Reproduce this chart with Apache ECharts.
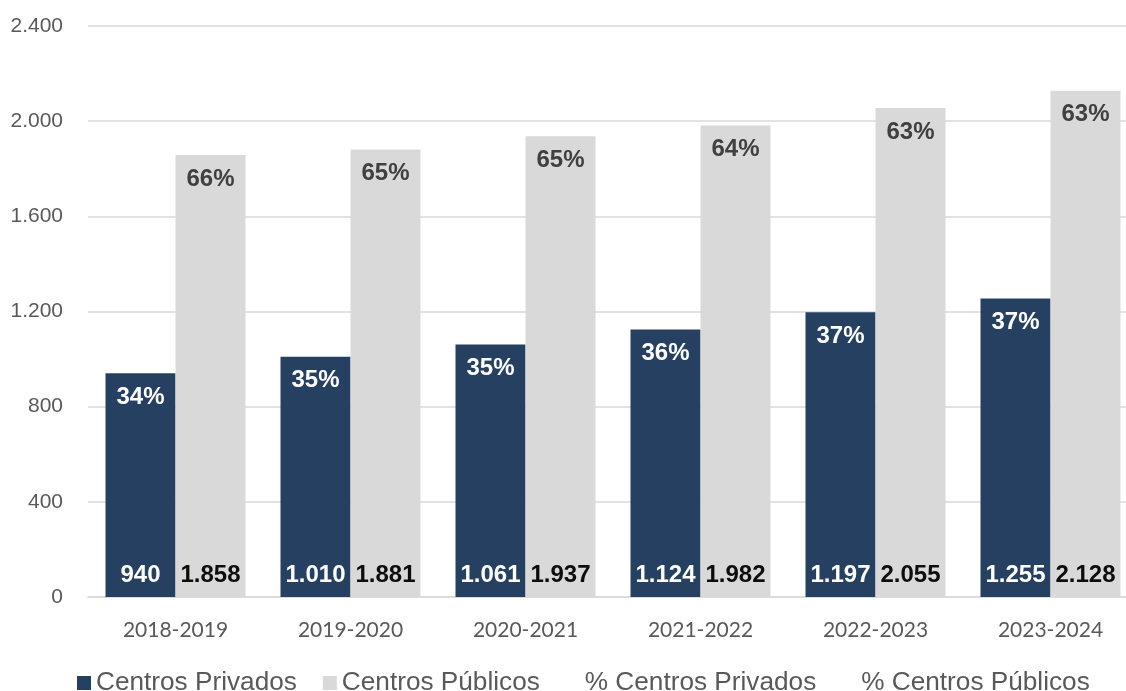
<!DOCTYPE html>
<html>
<head>
<meta charset="utf-8">
<script src="https://cdn.jsdelivr.net/npm/echarts@6/dist/echarts.min.js"></script>
<style>
  html, body { margin: 0; padding: 0; background: #ffffff; }
  #chart { width: 1126px; height: 691px; }
</style>
</head>
<body>
<div id="chart"></div>
<script>
// Cursos académicos
const categories = ['2018-2019', '2019-2020', '2020-2021', '2021-2022', '2022-2023', '2023-2024'];
// Número de centros
const centrosPrivados = [940, 1010, 1061, 1124, 1197, 1255];
const centrosPublicos = [1858, 1881, 1937, 1982, 2055, 2128];
// Porcentaje sobre el total
const pctPrivados = [34, 35, 35, 36, 37, 37];
const pctPublicos = [66, 65, 65, 64, 63, 63];
// Marcas del eje vertical
const yTicks = [0, 400, 800, 1200, 1600, 2000, 2400];

const fmtNum = v => String(v).replace(/\B(?=(\d{3})+(?!\d))/g, '.');
const SANS = 'Liberation Sans, Arial, sans-serif';

const chart = echarts.init(document.getElementById('chart'), null, { renderer: 'canvas' });

chart.setOption({
  animation: false,
  backgroundColor: '#ffffff',
  grid: { left: 88, top: 26, bottom: 94, width: 1050, containLabel: false, outerBoundsMode: 'none' },
  legend: {
    left: 77,
    top: 670,
    padding: 0,
    itemWidth: 14,
    itemHeight: 14,
    itemGap: 26,
    textStyle: { fontFamily: SANS, fontSize: 26.2, color: '#595959' },
    data: [
      { name: 'Centros Privados', icon: 'rect' },
      { name: 'Centros Públicos', icon: 'rect' },
      { name: '% Centros Privados', icon: 'none' },
      { name: '% Centros Públicos', icon: 'none' }
    ]
  },
  xAxis: {
    type: 'category',
    data: categories,
    axisTick: { show: false },
    axisLine: { lineStyle: { color: '#d9d9d9', width: 1.5 } },
    axisLabel: { fontFamily: 'Lato, sans-serif', fontSize: 21, color: '#595959', margin: 23 }
  },
  yAxis: {
    type: 'value',
    min: yTicks[0],
    max: yTicks[yTicks.length - 1],
    interval: yTicks[1] - yTicks[0],
    axisLine: { show: false },
    axisTick: { show: false },
    splitLine: { lineStyle: { color: '#d9d9d9', width: 1.5 } },
    axisLabel: { fontFamily: SANS, fontSize: 21, color: '#595959', margin: 25, formatter: fmtNum }
  },
  series: [
    {
      name: 'Centros Privados',
      type: 'bar',
      stack: 'priv',
      data: centrosPrivados,
      barCategoryGap: '20%',
      barGap: '0%',
      itemStyle: { color: '#264061' },
      label: {
        show: true, position: 'insideBottom', distance: 10,
        fontFamily: SANS, fontWeight: 'bold', fontSize: 24, color: '#ffffff',
        formatter: p => fmtNum(p.value)
      }
    },
    {
      name: '% Centros Privados',
      type: 'bar',
      stack: 'priv',
      data: pctPrivados.map(() => 0),
      itemStyle: { color: '#264061' },
      label: {
        show: true, position: 'insideTop', distance: 12,
        fontFamily: SANS, fontWeight: 'bold', fontSize: 24, color: '#ffffff',
        formatter: p => pctPrivados[p.dataIndex] + '%'
      }
    },
    {
      name: 'Centros Públicos',
      type: 'bar',
      stack: 'pub',
      data: centrosPublicos,
      barCategoryGap: '20%',
      barGap: '0%',
      itemStyle: { color: '#d9d9d9' },
      label: {
        show: true, position: 'insideBottom', distance: 10,
        fontFamily: SANS, fontWeight: 'bold', fontSize: 24, color: '#0d0d0d',
        formatter: p => fmtNum(p.value)
      }
    },
    {
      name: '% Centros Públicos',
      type: 'bar',
      stack: 'pub',
      data: pctPublicos.map(() => 0),
      barCategoryGap: '20%',
      barGap: '0%',
      itemStyle: { color: '#d9d9d9' },
      label: {
        show: true, position: 'insideTop', distance: 12,
        fontFamily: SANS, fontWeight: 'bold', fontSize: 24, color: '#404040',
        formatter: p => pctPublicos[p.dataIndex] + '%'
      }
    }
  ]
});
</script>
</body>
</html>
